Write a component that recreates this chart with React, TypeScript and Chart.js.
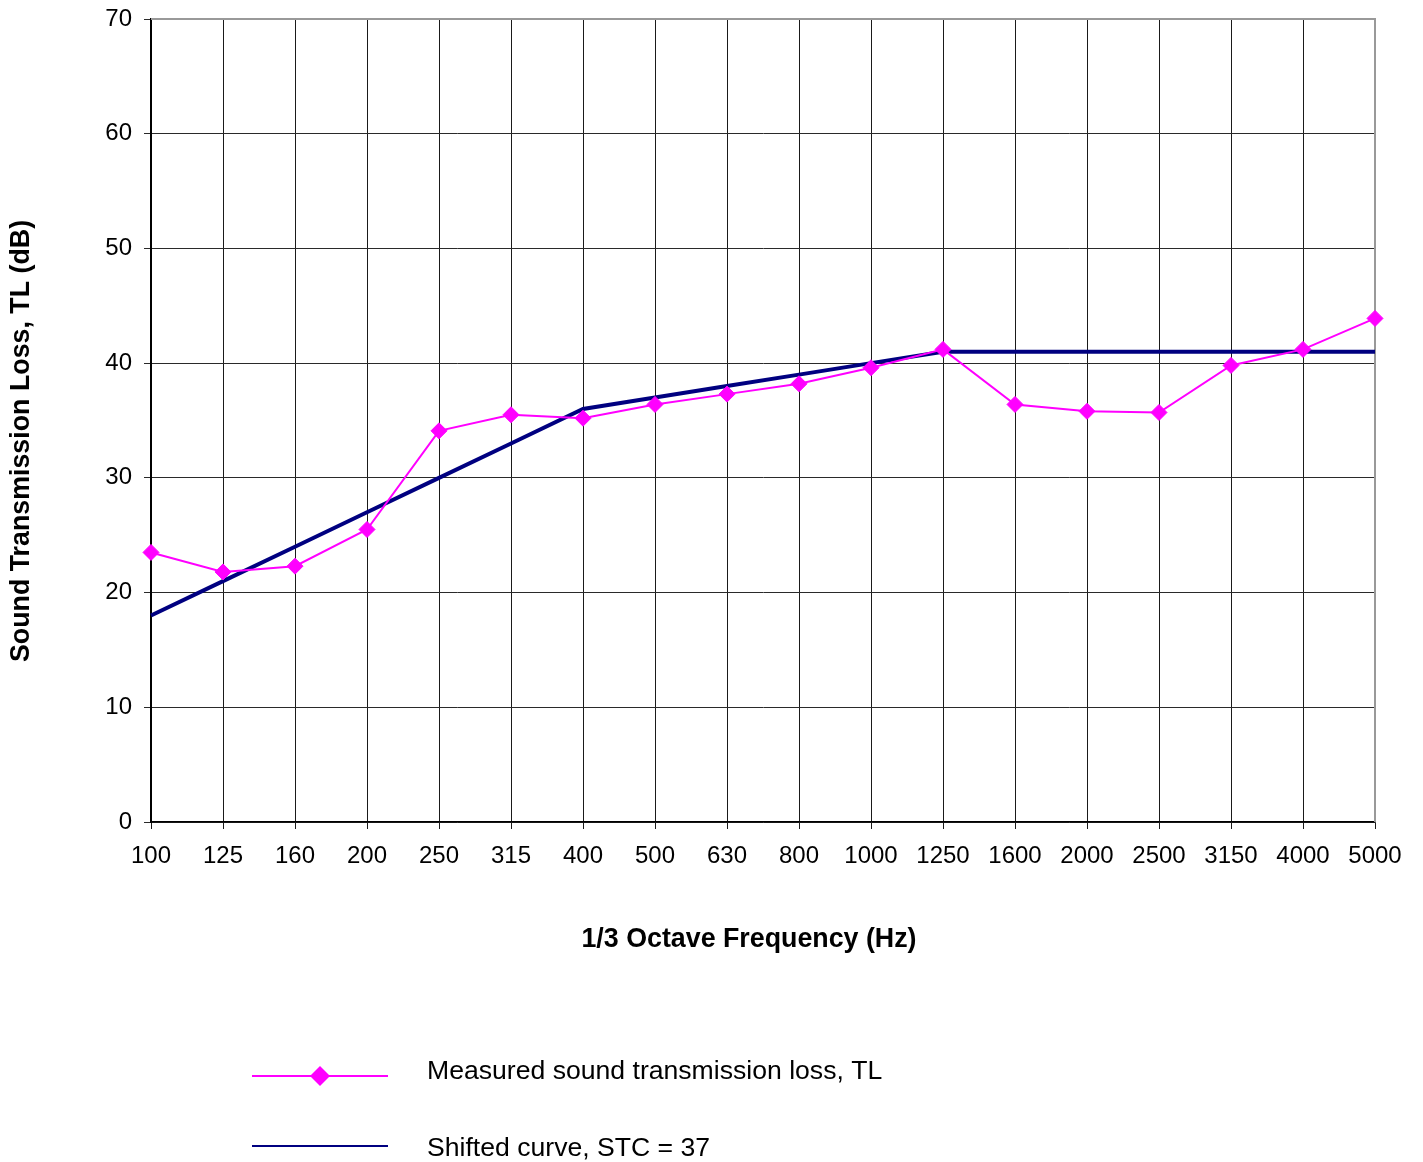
import React, { useEffect, useRef } from "react";
import { Chart, registerables } from "chart.js";

Chart.register(...registerables);

const frequencies = ["100", "125", "160", "200", "250", "315", "400", "500", "630", "800", "1000", "1250", "1600", "2000", "2500", "3150", "4000", "5000"];
const measuredTL = [23.5, 21.8, 22.3, 25.5, 34.1, 35.5, 35.2, 36.4, 37.3, 38.2, 39.6, 41.2, 36.4, 35.8, 35.7, 39.8, 41.2, 43.9];
const shiftedCurve = [18, 21, 24, 27, 30, 33, 36, 37, 38, 39, 40, 41, 41, 41, 41, 41, 41, 41];
const seriesLabels = ["Measured sound transmission loss, TL", "Shifted curve, STC = 37"];
const xTitle = "1/3 Octave Frequency (Hz)";
const yTitle = "Sound Transmission Loss, TL (dB)";

const FONT = "'Liberation Sans', Arial, sans-serif";
const PINK = "#FF00FF";
const NAVY = "#000080";

const framePlugin = {
  id: "frame",
  beforeDatasetsDraw(chart: any) {
    const { ctx, chartArea } = chart;
    ctx.save();
    ctx.strokeStyle = "#999999";
    ctx.lineWidth = 2;
    ctx.beginPath();
    ctx.moveTo(chartArea.left, chartArea.top);
    ctx.lineTo(chartArea.right, chartArea.top);
    ctx.lineTo(chartArea.right, chartArea.bottom);
    ctx.stroke();
    ctx.restore();
  },
};

const titlesPlugin = {
  id: "axisTitles",
  afterDraw(chart: any) {
    const ctx = chart.ctx;
    ctx.save();
    ctx.fillStyle = "#000";
    ctx.font = `bold 26.8px ${FONT}`;
    ctx.textAlign = "center";
    ctx.textBaseline = "middle";
    ctx.fillText(xTitle, 749, 940);
    ctx.translate(22, 441);
    ctx.rotate(-Math.PI / 2);
    ctx.fillText(yTitle, 0, 0);
    ctx.restore();
  },
};

const legendPlugin = {
  id: "customLegend",
  afterDraw(chart: any) {
    const ctx = chart.ctx;
    ctx.save();
    const x0 = 252;
    const x1 = 388;
    const tx = 427;
    const rows = [1076, 1146];
    ctx.strokeStyle = PINK;
    ctx.lineWidth = 2;
    ctx.beginPath();
    ctx.moveTo(x0, rows[0]);
    ctx.lineTo(x1, rows[0]);
    ctx.stroke();
    ctx.fillStyle = PINK;
    ctx.beginPath();
    const cx = (x0 + x1) / 2;
    const r = 10;
    ctx.moveTo(cx - r, rows[0]);
    ctx.lineTo(cx, rows[0] - r);
    ctx.lineTo(cx + r, rows[0]);
    ctx.lineTo(cx, rows[0] + r);
    ctx.closePath();
    ctx.fill();
    ctx.strokeStyle = NAVY;
    ctx.lineWidth = 2;
    ctx.beginPath();
    ctx.moveTo(x0, rows[1]);
    ctx.lineTo(x1, rows[1]);
    ctx.stroke();
    ctx.fillStyle = "#000";
    ctx.font = `26.6px ${FONT}`;
    ctx.textBaseline = "middle";
    ctx.textAlign = "left";
    ctx.fillText(seriesLabels[0], tx, rows[0] - 4);
    ctx.fillText(seriesLabels[1], tx, rows[1] + 3);
    ctx.restore();
  },
};

export default function App() {
  const canvasRef = useRef<HTMLCanvasElement | null>(null);

  useEffect(() => {
    if (!canvasRef.current) return;
    const chart = new Chart(canvasRef.current, {
      type: "line",
      data: {
        labels: frequencies,
        datasets: [
          {
            label: seriesLabels[0],
            data: measuredTL,
            borderColor: PINK,
            backgroundColor: PINK,
            borderWidth: 2,
            pointStyle: "rectRot",
            pointRadius: 8,
            pointBorderWidth: 1,
            pointBackgroundColor: PINK,
            pointBorderColor: PINK,
            tension: 0,
            fill: false,
            clip: false as any,
          },
          {
            label: seriesLabels[1],
            data: shiftedCurve,
            borderColor: NAVY,
            backgroundColor: NAVY,
            borderWidth: 4,
            pointRadius: 0,
            tension: 0,
            fill: false,
          },
        ],
      },
      options: {
        animation: false,
        responsive: true,
        maintainAspectRatio: false,
        layout: { padding: { left: 0, top: 19, right: 48, bottom: 200 } },
        plugins: {
          legend: { display: false },
          tooltip: { enabled: false },
        },
        scales: {
          x: {
            type: "category",
            offset: false,
            grid: { color: "#1a1a1a", lineWidth: 1, tickLength: 7, offset: false },
            border: { color: "#000", width: 1.5 },
            ticks: {
              color: "#000",
              font: { family: FONT, size: 24 },
              padding: 13,
              maxRotation: 0,
              autoSkip: false,
            },
            title: { display: false, text: xTitle },
            afterFit(scale: any) {
              scale.height = 140;
            },
          },
          y: {
            min: 0,
            max: 70,
            grid: { color: "#2a2a2a", lineWidth: 1, tickLength: 7 },
            border: { color: "#000", width: 2 },
            ticks: {
              stepSize: 10,
              color: "#000",
              font: { family: FONT, size: 24 },
              padding: 12,
            },
            title: { display: false, text: yTitle },
            afterFit(scale: any) {
              scale.width = 151;
              scale.paddingTop = 0;
              scale.paddingBottom = 0;
            },
          },
        },
      },
      plugins: [framePlugin, titlesPlugin, legendPlugin],
    });
    return () => chart.destroy();
  }, []);

  return (
    <div style={{ position: "absolute", left: 0, top: 0, width: 1423, height: 1162, background: "#fff" }}>
      <canvas ref={canvasRef} />
    </div>
  );
}
